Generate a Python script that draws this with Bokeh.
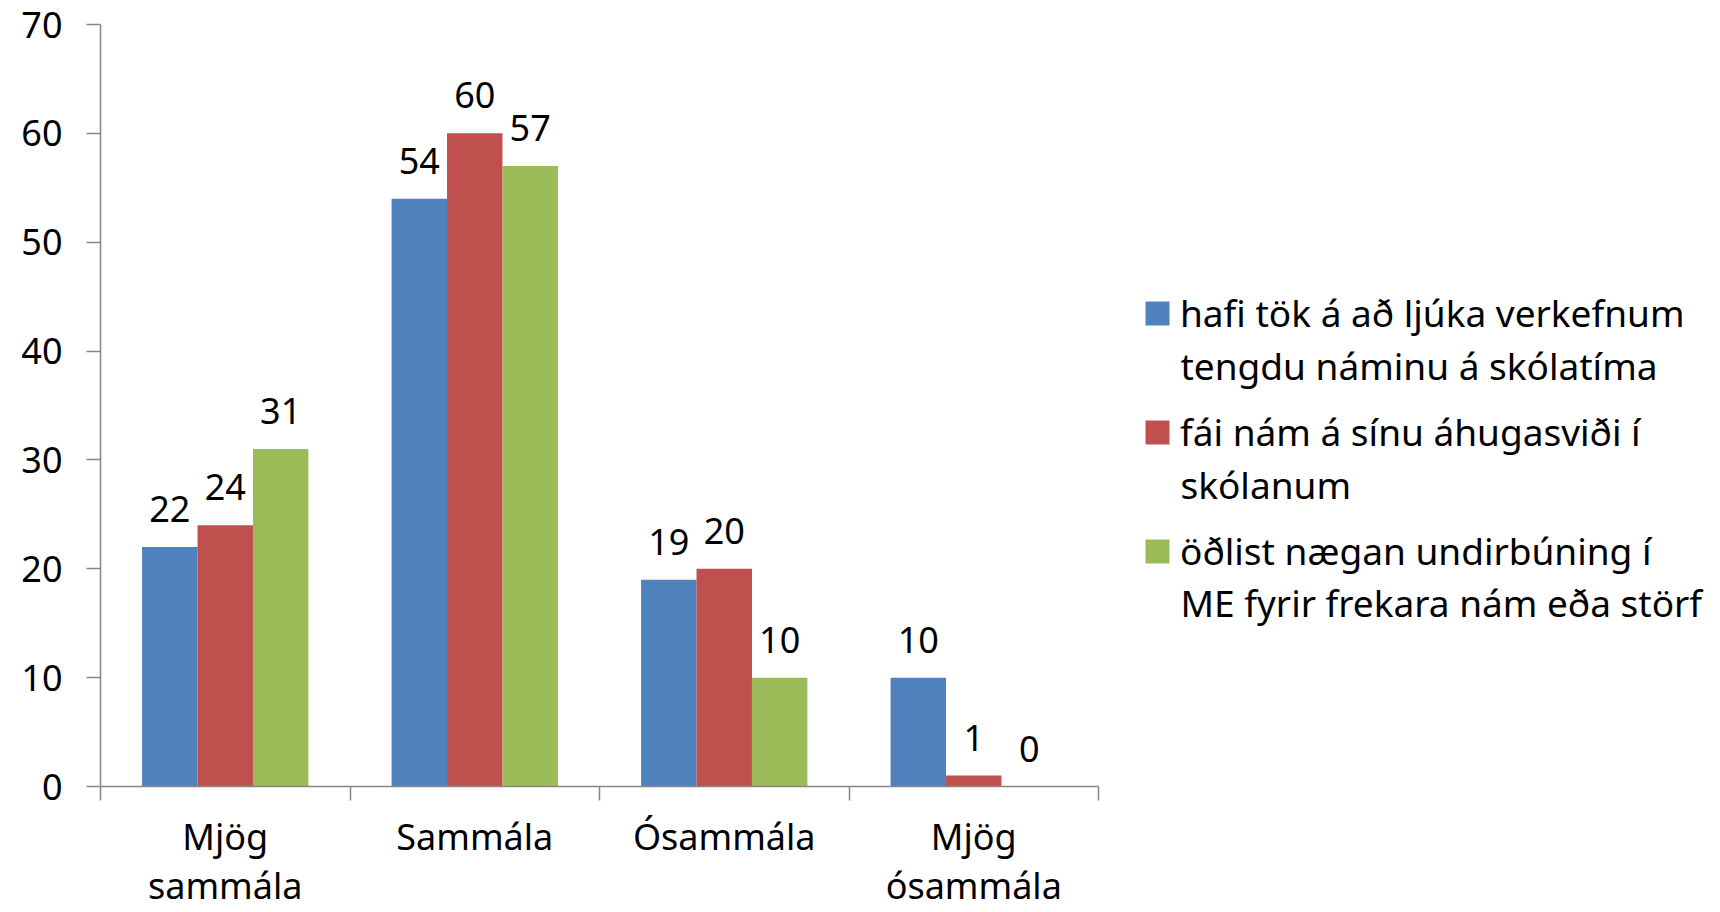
from bokeh.plotting import figure
from bokeh.models import Range1d, FixedTicker, Legend, LegendItem, ColumnDataSource, Label
from bokeh.embed import file_html
from bokeh.resources import INLINE
from bokeh.core.properties import value

categories = ["Mjög\nsammála", "Sammála", "Ósammála", "Mjög\nósammála"]
series_names = [
    ["hafi tök á að ljúka verkefnum", "tengdu náminu á skólatíma"],
    ["fái nám á sínu áhugasviði í", "skólanum"],
    ["öðlist nægan undirbúning í", "ME fyrir frekara nám eða störf"],
]
series_1 = [22, 54, 19, 10]
series_2 = [24, 60, 20, 1]
series_3 = [31, 57, 10, 0]
colors = ["#4F81BD", "#C0504D", "#9BBB59"]
y_ticks = [0, 10, 20, 30, 40, 50, 60, 70]

FONT = "Noto Sans"
FS = "36px"
LFS = "37px"
GREY = "#868686"

W, H = 1720, 912
LEFT, TOP, BOTTOM = 100, 24, 126
PLOT_W = 998  # width of the category area
n = len(categories)
x_end = n * (W - LEFT) / PLOT_W

p = figure(width=W, height=H, x_range=Range1d(0, x_end),
           y_range=Range1d(0, 70), output_backend="svg", toolbar_location=None,
           min_border_left=LEFT, min_border_top=TOP, min_border_bottom=BOTTOM,
           min_border_right=0)
p.outline_line_color = None
p.xgrid.visible = False
p.ygrid.visible = False
p.background_fill_color = "white"
p.border_fill_color = "white"

bar_w = 2.0 / 9.0
items = []
for j, (vals, col, name) in enumerate(zip([series_1, series_2, series_3], colors, series_names)):
    xs = [i + 0.5 + (j - 1) * bar_w for i in range(n)]
    src = ColumnDataSource(dict(x=xs, top=vals, lab=[str(v) for v in vals]))
    r = p.vbar(x="x", top="top", bottom=0, width=bar_w, source=src,
               fill_color=col, line_color=None)
    p.text(x="x", y="top", text="lab", source=src, text_align="center",
           text_baseline="middle", y_offset=-38, text_font=value(FONT),
           text_font_size=FS, text_color="black")
    items.append(LegendItem(label=name[0], renderers=[r]))

# y axis
p.yaxis.ticker = FixedTicker(ticks=y_ticks)
p.yaxis.minor_tick_line_color = None
p.yaxis.major_tick_out = 14
p.yaxis.major_tick_in = 0
p.yaxis.axis_line_color = GREY
p.yaxis.axis_line_width = 1.5
p.yaxis.major_tick_line_color = GREY
p.yaxis.major_tick_line_width = 1.5
p.yaxis.major_label_text_font = FONT
p.yaxis.major_label_text_font_size = FS
p.yaxis.major_label_text_color = "black"
p.yaxis.major_label_standoff = 24

# x axis: labels at category centres, ticks at category boundaries
centres = [i + 0.5 for i in range(n)]
p.xaxis.ticker = FixedTicker(ticks=centres, minor_ticks=list(range(n + 1)))
p.xaxis.bounds = (0, n)
p.xaxis.major_label_overrides = {c: lab for c, lab in zip(centres, categories)}
p.xaxis.major_tick_line_color = None
p.xaxis.major_tick_out = 0
p.xaxis.major_tick_in = 0
p.xaxis.minor_tick_out = 14
p.xaxis.minor_tick_in = 0
p.xaxis.minor_tick_line_color = GREY
p.xaxis.minor_tick_line_width = 1.5
p.xaxis.axis_line_color = GREY
p.xaxis.axis_line_width = 1.5
p.xaxis.major_label_text_font = FONT
p.xaxis.major_label_text_font_size = FS
p.xaxis.major_label_text_color = "black"
p.xaxis.major_label_text_line_height = 1.0
p.xaxis.major_label_standoff = 11

legend = Legend(items=items, location=(1042, 210), orientation="vertical")
legend.label_text_font = FONT
legend.label_text_font_size = LFS
legend.label_text_color = "black"
legend.label_height = 50
legend.glyph_width = 30
legend.glyph_height = 30
legend.label_standoff = 8
legend.spacing = 68
legend.padding = 0
legend.margin = 0
legend.border_line_color = None
legend.background_fill_alpha = 0
p.add_layout(legend)

# second lines of legend labels
for j, name in enumerate(series_names):
    p.add_layout(Label(x=1080, y=421 - j * 118.5, x_units="screen", y_units="screen",
                       text=name[1], text_align="left", text_baseline="middle",
                       text_font=FONT, text_font_size=LFS, text_color="black"))

open("out.html", "w").write(file_html(p, INLINE))
